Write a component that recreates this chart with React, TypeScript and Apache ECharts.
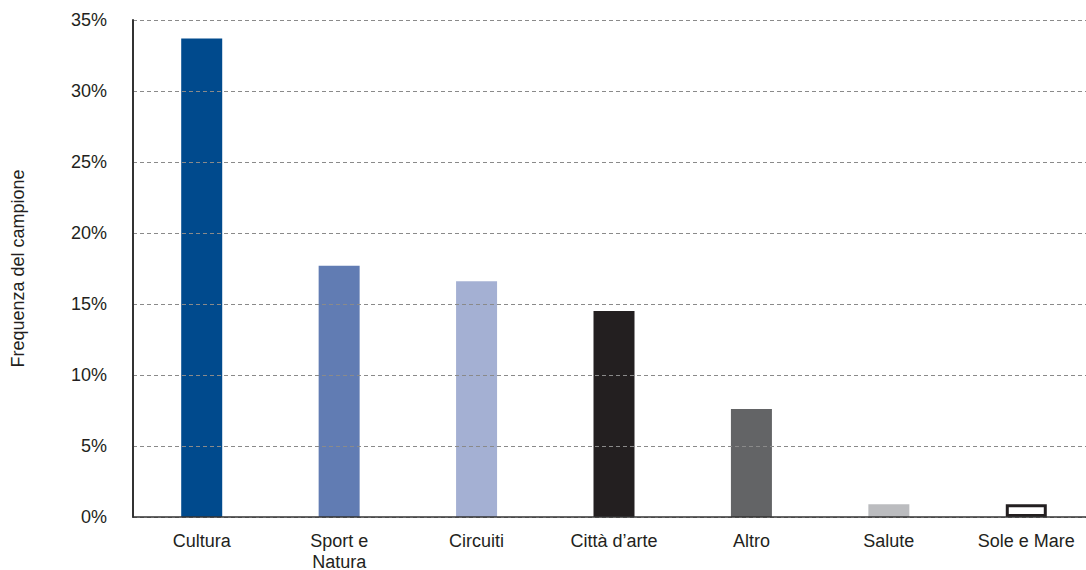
import React, { useEffect, useRef } from "react";
import * as echarts from "echarts";

// Categories and values (percent of the sample)
const categories = [
  "Cultura",
  "Sport e\nNatura",
  "Circuiti",
  "Città d’arte",
  "Altro",
  "Salute",
  "Sole e Mare",
];
const values = [33.7, 17.7, 16.6, 14.5, 7.6, 0.9, 0.9];
const barColors = ["#004a8d", "#617cb3", "#a4b0d3", "#231f20", "#636466", "#bbbcbf", "#ffffff"];
const yTicks = { min: 0, max: 35, interval: 5 };
const yTitle = "Frequenza del campione";

const FONT = "'Liberation Sans', Arial, Helvetica, sans-serif";
const TEXT = "#231f20";

export default function App() {
  const ref = useRef<HTMLDivElement>(null);

  useEffect(() => {
    if (!ref.current) return;
    const chart = echarts.init(ref.current, null, { renderer: "svg" });

    chart.setOption({
      animation: false,
      backgroundColor: "#ffffff",
      grid: {
        left: 133,
        right: -9,
        top: 20,
        bottom: 53,
        containLabel: false,
        outerBoundsMode: "none",
      },
      xAxis: {
        type: "category",
        data: categories,
        z: 5,
        axisLine: { show: true, lineStyle: { color: "#333333", width: 1.5 } },
        axisTick: { show: false },
        axisLabel: {
          color: TEXT,
          fontFamily: FONT,
          fontSize: 18,
          lineHeight: 21,
          margin: 13,
          interval: 0,
        },
      },
      yAxis: {
        type: "value",
        min: yTicks.min,
        max: yTicks.max,
        interval: yTicks.interval,
        z: 5,
        name: yTitle,
        nameLocation: "middle",
        nameRotate: 90,
        nameGap: 106,
        nameTextStyle: { color: TEXT, fontFamily: FONT, fontSize: 18 },
        axisLine: { show: true, lineStyle: { color: "#333333", width: 2 } },
        axisTick: { show: false },
        axisLabel: {
          color: TEXT,
          fontFamily: FONT,
          fontSize: 18,
          margin: 26,
          formatter: "{value}%",
        },
        splitLine: {
          show: true,
          lineStyle: { color: "#8a8a8a", type: [4, 3], width: 1 },
        },
      },
      series: [
        {
          // white margin that interrupts the grid lines beside each bar
          type: "bar",
          silent: true,
          barWidth: 49,
          barGap: "-100%",
          z: 1,
          itemStyle: { color: "#ffffff" },
          data: values,
        },
        {
          type: "bar",
          barWidth: 41,
          barGap: "-100%",
          z: 2,
          data: values.map((v, i) => ({
            value: v,
            itemStyle:
              barColors[i] === "#ffffff"
                ? { color: "#ffffff", borderColor: "#231f20", borderWidth: 3 }
                : { color: barColors[i] },
          })),
        },
      ],
    });

    return () => chart.dispose();
  }, []);

  return (
    <div
      ref={ref}
      style={{ position: "fixed", left: 0, top: 0, width: 1086, height: 570, background: "#fff" }}
    />
  );
}
